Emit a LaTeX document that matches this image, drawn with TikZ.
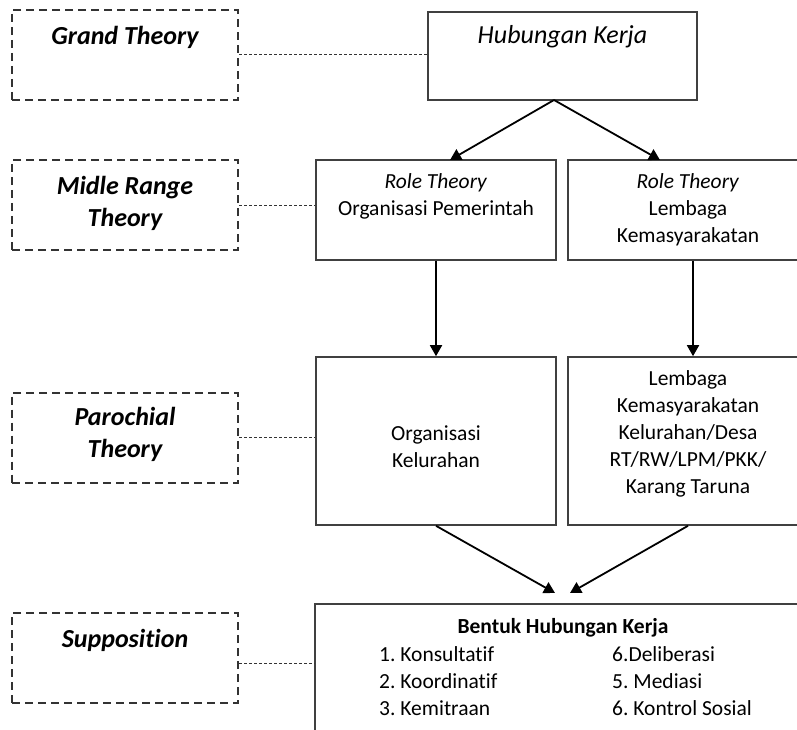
\documentclass[tikz,border=0pt]{standalone}
\usepackage{fontspec}
\setmainfont{Carlito}[Ligatures=NoCommon]
\usetikzlibrary{arrows.meta}
\frenchspacing
\begin{document}
\begin{tikzpicture}[x=1pt,y=-1pt,
  lbox/.style={draw=black!80, line width=2pt, dash pattern=on 8pt off 5pt, minimum width=226pt, minimum height=90pt, inner sep=0pt},
  sbox/.style={draw=black!75, line width=1.6pt, inner sep=0pt},
  dotl/.style={draw=black!80, line width=1pt, dash pattern=on 3pt off 2pt},
  arr/.style={line width=1.8pt, -{Triangle[length=11pt,width=12pt]}},
  big/.style={font=\fontsize{26}{32}\selectfont\bfseries\itshape, align=center, inner sep=0pt},
  txt/.style={font=\fontsize{21.5}{27}\selectfont, align=center, inner sep=0pt},
]
\useasboundingbox (0,0) rectangle (797,730);
\clip (0,0) rectangle (797,730);

% left dashed label boxes
\node[lbox] (lg) at (125,55) {};
\node[lbox] (lm) at (125,205) {};
\node[lbox] (lp) at (125,437.5) {};
\node[lbox] (ls) at (125,658) {};
\node[big] (tg) at (125,37) {Grand Theory};
\node[big] (tm) at (125,203.5) {Midle Range\\Theory};
\node[big] (tp) at (125,434.5) {Parochial\\Theory};
\node[big] (ts) at (125,640) {Supposition};

% solid boxes
\node[sbox, minimum width=269pt, minimum height=88pt] (hk) at (562.5,56) {};
\node[sbox, minimum width=240pt, minimum height=100pt] (ro) at (436,210) {};
\node[sbox, minimum width=240pt, minimum height=100pt] (rr) at (688,210) {};
\node[sbox, minimum width=240pt, minimum height=168pt] (po) at (436,441) {};
\node[sbox, minimum width=240pt, minimum height=168pt] (pr) at (688,441) {};
\node[sbox, minimum width=496pt, minimum height=160pt] (bf) at (563,684) {};

% texts
\node[txt, font=\fontsize{26}{32}\selectfont\itshape] (thk) at (562.5,37) {Hubungan Kerja};
\node[txt] (tro) at (436,196.5) {\textit{Role Theory}\\Organisasi Pemerintah};
\node[txt] (trr) at (688,210) {\textit{Role Theory}\\Lembaga\\Kemasyarakatan};
\node[txt] (tpo) at (436,447) {Organisasi\\Kelurahan};
\node[txt] (tpr) at (688,434) {Lembaga\\Kemasyarakatan\\Kelurahan/Desa\\RT/RW/LPM/PKK/\\Karang Taruna};
\node[txt, font=\fontsize{21.5}{27}\selectfont\bfseries] (tbf) at (563,628) {Bentuk Hubungan Kerja};
\node[txt, align=left, anchor=west] (tl) at (379,681) {1. Konsultatif\\2. Koordinatif\\3. Kemitraan};
\node[txt, align=left, anchor=west] (tr) at (612,681) {6.Deliberasi\\5. Mediasi\\6. Kontrol Sosial};

% dotted connectors
\draw[dotl] (lg.east) -- (lg.east -| hk.west);
\draw[dotl] (lm.east) -- (lm.east -| ro.west);
\draw[dotl] (lp.east) -- (lp.east -| po.west);
\draw[dotl] ([yshift=-5pt]ls.east) -- ([yshift=-5pt]ls.east -| bf.west);

% arrows
\coordinate (hs) at (554,100);
\coordinate (a1) at (450,160);
\coordinate (a2) at (660,160);
\coordinate (b1) at (555,593);
\coordinate (b2) at (570,593);
\draw[arr] (hs) -- (a1);
\draw[arr] (hs) -- (a2);
\draw[arr] (ro.south) -- (po.north);
\draw[arr] ([xshift=5pt]rr.south) -- ([xshift=5pt]pr.north);
\draw[arr] (po.south) -- (b1);
\draw[arr] (pr.south) -- (b2);
\end{tikzpicture}
\end{document}
